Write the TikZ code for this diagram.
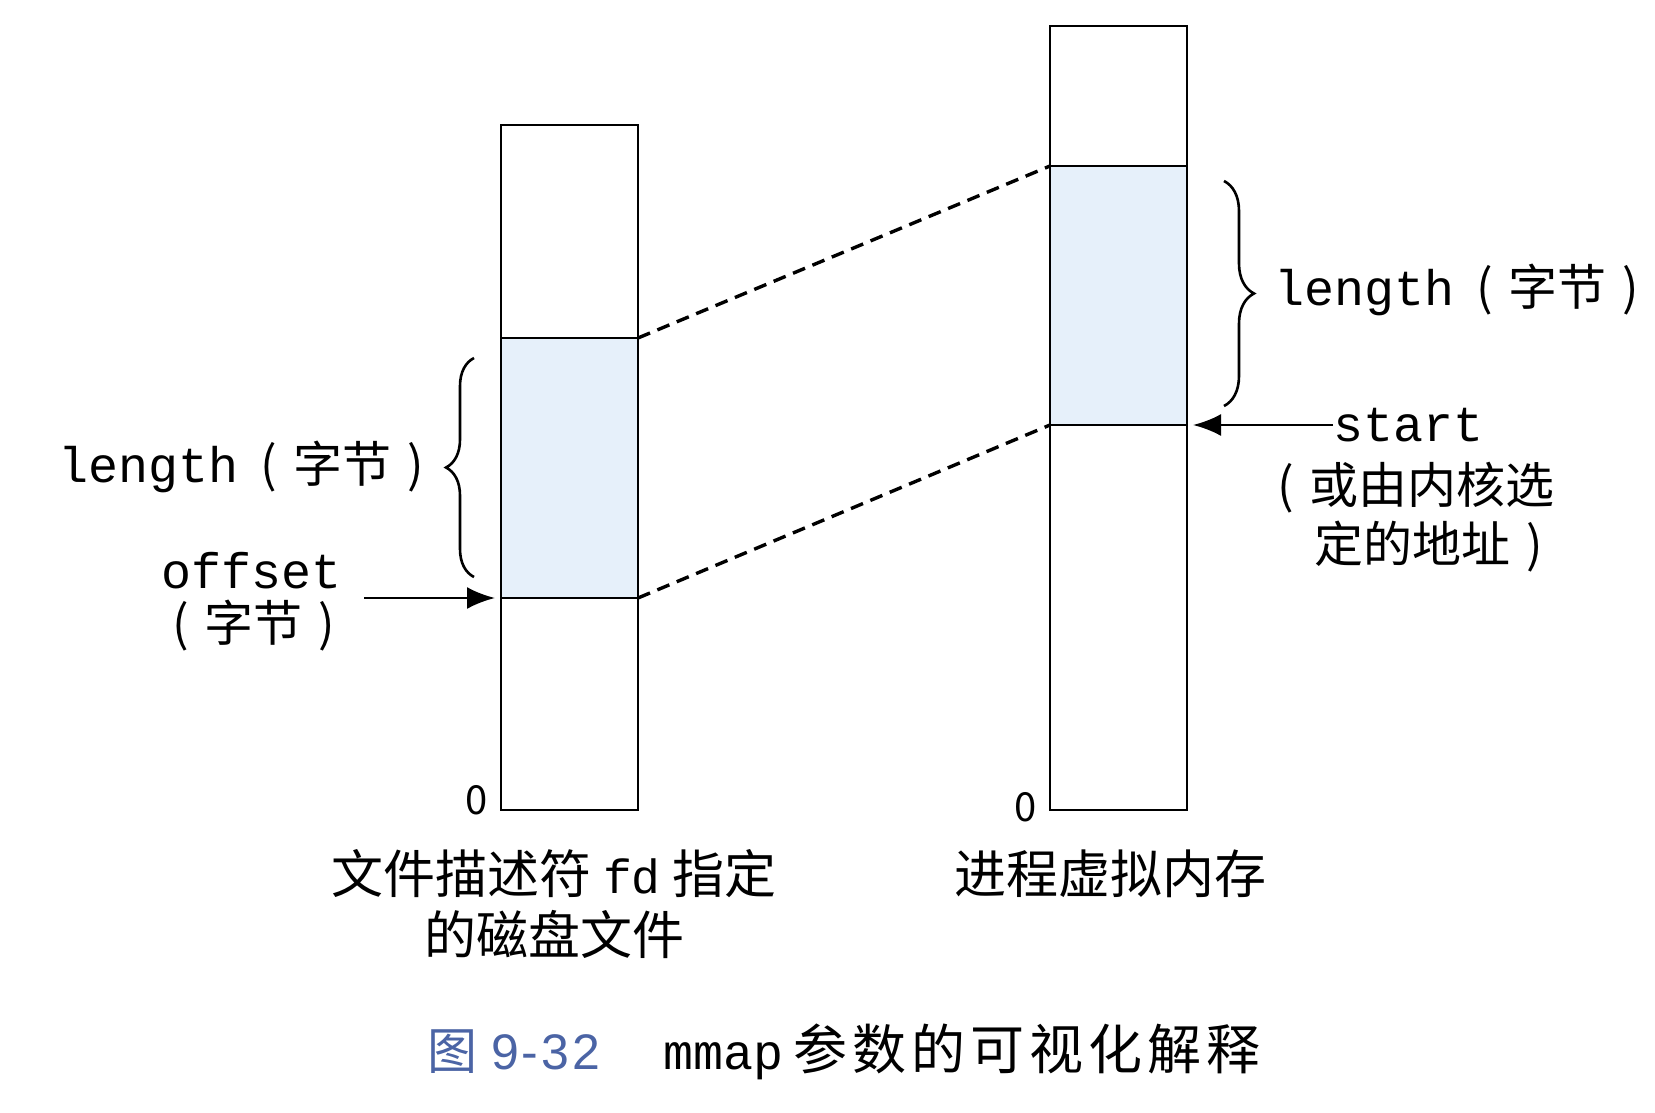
\documentclass[tikz,border=0pt]{standalone}
\usepackage{fontspec}
\setmainfont{Noto Sans CJK SC}
\newfontfamily\monof{Liberation Mono}
\newfontfamily\capsans{Liberation Sans}
\usetikzlibrary{arrows.meta,decorations.pathreplacing}
\definecolor{shade}{RGB}{230,240,250}
\definecolor{fignum}{RGB}{75,100,165}
\newcommand{\lpar}{(\hspace{16pt}}
\newcommand{\rpar}{\hspace{16pt})}
\newcommand{\mtxt}[1]{{\monof\fontsize{50}{52}\selectfont #1}}
\begin{document}
\begin{tikzpicture}[x=1pt,y=-1pt,
  boxstyle/.style={draw=black,line width=2.6pt,inner sep=0pt,outer sep=0pt},
  shadestyle/.style={fill=shade,draw=black,line width=2.6pt,inner sep=0pt,outer sep=0pt},
  lbl/.style={inner sep=0pt,font=\fontsize{49}{56}\selectfont},
  biglbl/.style={inner sep=0pt,font=\fontsize{52}{62}\selectfont,align=center},
  mapline/.style={line width=3.4pt,dash pattern=on 13pt off 8pt},
  bracestyle/.style={decorate,line width=2.6pt},
  ptr/.style={line width=2.8pt,-{Latex[length=28pt,width=22pt]}}]
\useasboundingbox (0,0) rectangle (1655,1112);
% left box (disk file)
\node[boxstyle,minimum width=137pt,minimum height=685pt] (L) at (569.5,467.5) {};
\node[shadestyle,minimum width=137pt,minimum height=260pt] (Ls) at (569.5,468) {};
% right box (virtual memory)
\node[boxstyle,minimum width=137pt,minimum height=784pt] (R) at (1118.5,418) {};
\node[shadestyle,minimum width=137pt,minimum height=259pt] (Rs) at (1118.5,295.5) {};
% dashed mapping lines
\draw[mapline] (Ls.north east) -- (Rs.north west);
\draw[mapline] (Ls.south east) -- (Rs.south west);
% left brace and label
\coordinate (lb1) at (474,577);
\coordinate (lb2) at (474,358);
\draw[bracestyle,decoration={brace,amplitude=28pt}] (lb1) -- (lb2);
\node[lbl,anchor=east] (llen) at (424,467) {\mtxt{length}\hspace{22pt}\lpar 字节\rpar};
% offset
\node[lbl,anchor=center] (off) at (252,571) {\mtxt{offset}};
\node[lbl,anchor=center] (offb) at (254,626) {\lpar 字节\rpar};
\coordinate (offtail) at (364,598);
\draw[ptr] (offtail) -- ([xshift=-6pt]Ls.south west);
% zeros
\node[lbl,anchor=center,font=\fontsize{40}{44}\selectfont] (z1) at (477,800) {0};
\node[lbl,anchor=center,font=\fontsize{40}{44}\selectfont] (z2) at (1026,807) {0};
% right brace and label
\coordinate (rb1) at (1224,181);
\coordinate (rb2) at (1224,406);
\draw[bracestyle,decoration={brace,amplitude=30pt}] (rb1) -- (rb2);
\node[lbl,anchor=west] (rlen) at (1274,290) {\mtxt{length}\hspace{22pt}\lpar 字节\rpar};
% start
\node[lbl,anchor=west] (start) at (1333,425) {\mtxt{start}};
\node[lbl,anchor=west] (st2) at (1277,488) {\lpar 或由内核选};
\node[lbl,anchor=west] (st3) at (1314,547) {定的地址\rpar};
\draw[ptr] (start.west) -- ([xshift=6pt]Rs.south east);
% bottom labels
\node[biglbl,anchor=center] (ldesc1) at (554,874) {文件描述符 {\monof\fontsize{48}{52}\selectfont fd} 指定};
\node[biglbl,anchor=center] (ldesc2) at (554,934) {的磁盘文件};
\node[biglbl,anchor=center] (rdesc) at (1110,874) {进程虚拟内存};
% caption
\node[inner sep=0pt,anchor=west,text=fignum,font=\fontsize{50}{52}\selectfont] (fig) at (427,1052) {图\hspace{14pt}{\capsans 9\hspace{3pt}-\hspace{3pt}3\hspace{3pt}2}};
\node[inner sep=0pt,anchor=west,font=\fontsize{54}{56}\selectfont] (cap) at (663,1052) {\mtxt{mmap}\hspace{10pt}参\hspace{5pt}数\hspace{5pt}的\hspace{5pt}可\hspace{5pt}视\hspace{5pt}化\hspace{5pt}解\hspace{5pt}释};
\end{tikzpicture}
\end{document}
